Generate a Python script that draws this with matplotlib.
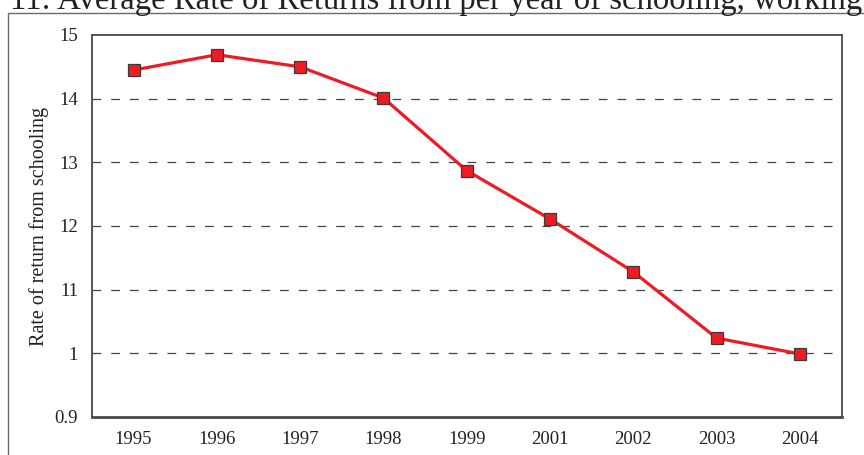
import matplotlib
matplotlib.use("Agg")
import matplotlib.pyplot as plt
from matplotlib.patches import Rectangle

years = ["1995", "1996", "1997", "1998", "1999", "2001", "2002", "2003", "2004"]
rates = [1.445, 1.469, 1.450, 1.401, 1.287, 1.211, 1.128, 1.024, 0.999]
ytick_vals = [0.9, 1.0, 1.1, 1.2, 1.3, 1.4, 1.5]
ytick_labels = ["0.9", "1", "11", "12", "13", "14", "15"]
title = "11: Average Rate of Returns from per year of schooling, working population"
ylabel = "Rate of return from schooling"

plt.rcParams['font.family'] = ['Liberation Serif', 'DejaVu Serif']

W, H = 864, 455
fig = plt.figure(figsize=(W / 100, H / 100), dpi=100)
fig.patch.set_facecolor('white')

# outer frame
fig.patches.append(Rectangle((7.5 / W, -0.1), 1.2, 1 - 12.7 / H + 0.1,
                             transform=fig.transFigure, fill=False,
                             edgecolor='#6a6a6a', linewidth=1.0))

fig.text(10 / W, 1 - 9.5 / H, title, fontsize=23.6, ha='left', va='baseline',
         color='#222222')

ax = fig.add_axes([92 / W, 1 - 417 / H, (841.5 - 92) / W, (417 - 35) / H])
x = list(range(len(years)))
ax.plot(x, rates, color='#ED1C24', linewidth=2.3, marker='s', markersize=8.5,
        markerfacecolor='#ED1C24', markeredgecolor='#3a3a3a',
        markeredgewidth=0.9, zorder=3)

ax.set_xlim(-0.5, len(years) - 0.5)
ax.set_ylim(0.9, 1.5)
ax.set_xticks(x)
ax.set_xticklabels(years)
ax.set_yticks(ytick_vals)
ax.set_yticklabels(ytick_labels)
ax.tick_params(axis='both', length=0, labelsize=13.5, colors='#222222')
ax.tick_params(axis='y', pad=10)
ax.tick_params(axis='x', pad=10)

for v in ytick_vals[1:-1]:
    ax.axhline(v, color='#444444', linewidth=0.9, linestyle=(0, (7, 8)), zorder=1)

for s in ax.spines.values():
    s.set_color('#4a4a4a')
    s.set_linewidth(1.3)
ax.spines['bottom'].set_linewidth(2.0)

ax.set_ylabel(ylabel, fontsize=14.5, color='#222222', labelpad=4)

fig.savefig("out.png", dpi=100)
